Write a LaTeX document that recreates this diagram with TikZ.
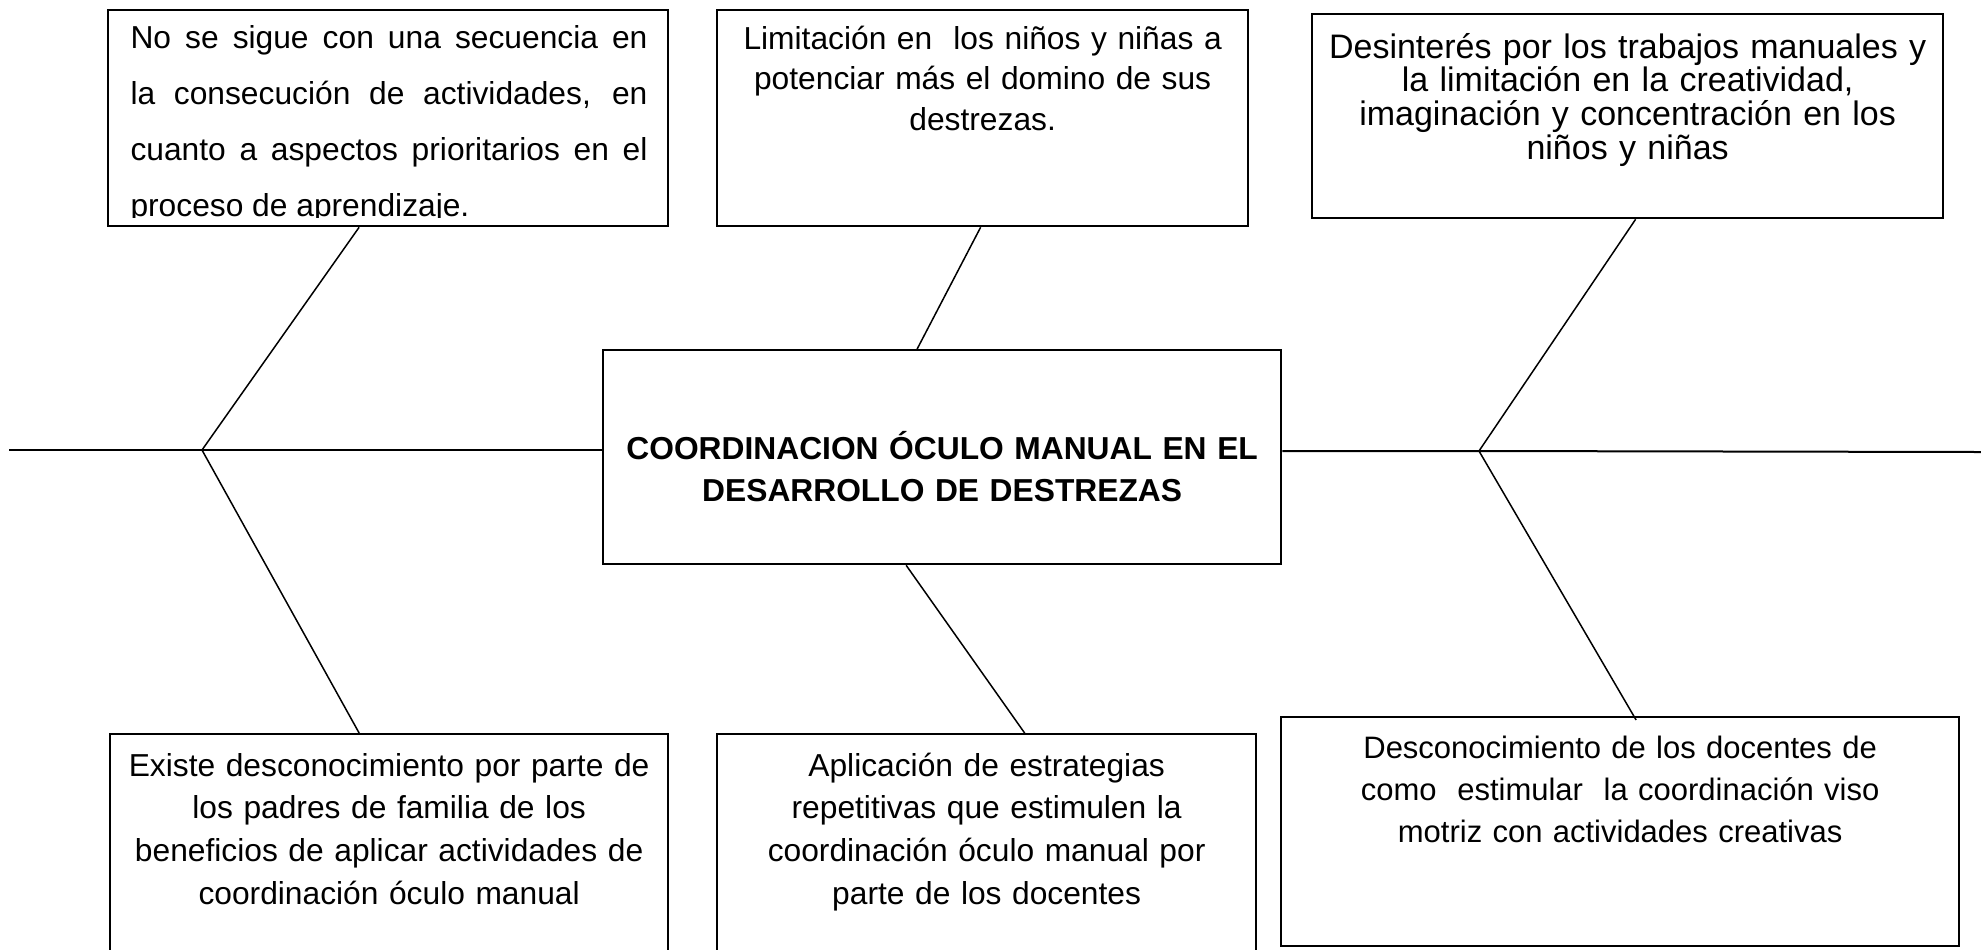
\documentclass[tikz,border=0pt]{standalone}
\usepackage{fontspec}
\setmainfont{Liberation Sans}
\usetikzlibrary{calc,positioning}

\begin{document}
\begin{tikzpicture}[x=0.4pt,y=-0.4pt]
        \tikzstyle{caja}=[rectangle, draw=black, line width=0.9pt, inner sep=0pt, anchor=north west]
        \tikzstyle{texto}=[align=center, text width=270pt, inner sep=0pt, anchor=base, font=\fontsize{12.7}{17.1}\selectfont]
        \tikzstyle{hueso}=[line width=0.6pt]
        \tikzstyle{espina}=[line width=0.8pt]
        \clip (0,0) rectangle (1981,949);
        % cajas
        \node[caja, minimum width=224pt, minimum height=86.4pt] (A) at (107,9) {};
        \node[caja, minimum width=212.4pt, minimum height=86.4pt] (B) at (716,9) {};
        \node[caja, minimum width=252.4pt, minimum height=81.6pt] (C) at (1311,13) {};
        \node[caja, minimum width=271.2pt, minimum height=85.6pt] (M) at (602,349) {};
        \node[caja, minimum width=223.2pt, minimum height=96pt] (D) at (109,733) {};
        \node[caja, minimum width=215.6pt, minimum height=96pt] (E) at (716,733) {};
        \node[caja, minimum width=271.2pt, minimum height=91.6pt] (F) at (1280,716) {};
        % textos
        \begin{scope}
        \clip (107,9) rectangle (667,217);
        \node[texto, anchor=base west, align=justify, text width=206.8pt, font=\fontsize{12.7}{22.4}\selectfont] (tA) at (130,48)
        {No se sigue con una secuencia en\linebreak la consecución de actividades, en\linebreak cuanto a aspectos prioritarios en el\linebreak proceso de aprendizaje.};
        \end{scope}
        \node[texto, font=\fontsize{12.7}{16.2}\selectfont] (tB) at ($(B.north)+(0,40)$)
        {Limitación en~ los niños y niñas a\\potenciar más el domino de sus\\destrezas.};
        \node[texto, font=\fontsize{13.6}{13.5}\selectfont] (tC) at ($(C.north)+(0,45)$)
        {Desinterés por los trabajos manuales y\\la limitación en la creatividad,\\imaginación y concentración en los\\niños y niñas};
        \node[texto, font=\fontsize{12.7}{16.8}\selectfont\bfseries] (tM) at ($(M.north)+(0,110)$)
        {COORDINACION ÓCULO MANUAL EN EL\\DESARROLLO DE DESTREZAS};
        \node[texto] (tD) at ($(D.north)+(0,43)$)
        {Existe desconocimiento por parte de\\los padres de familia de los\\beneficios de aplicar actividades de\\coordinación óculo manual};
        \node[texto] (tE) at ($(E.north)+(0,43)$)
        {Aplicación de estrategias\\repetitivas que estimulen la\\coordinación óculo manual por\\parte de los docentes};
        \node[texto, font=\fontsize{12.4}{16.8}\selectfont] (tF) at ($(F.north)+(0,42)$)
        {Desconocimiento de los docentes de\\como~ estimular~ la coordinación viso\\motriz con actividades creativas};
        % espina y huesos
        \coordinate (ini) at (9,450);
        \coordinate (jl) at (202,450);
        \coordinate (jr) at (1479,451);
        \coordinate (fin) at (1981,452);
        \draw[espina] (ini) -- (jl) -- (M.west |- jl);
        \draw[espina] (M.east |- jr) -- (jr) -- (fin);
        \path (jl) edge[hueso] ($(A.south)+(-29,0)$)
        (jl) edge[hueso] ($(D.north)+(-30,0)$)
        ($(M.north)+(-25,0)$) edge[hueso] ($(B.south)+(-2,0)$)
        ($(M.south)+(-36,0)$) edge[hueso] ($(E.north)+(38,0)$)
        (jr) edge[hueso] ($(C.south)+(8,0)$)
        (jr) edge[hueso] ($(F.north)+(16,4)$);
\end{tikzpicture}
\end{document}
